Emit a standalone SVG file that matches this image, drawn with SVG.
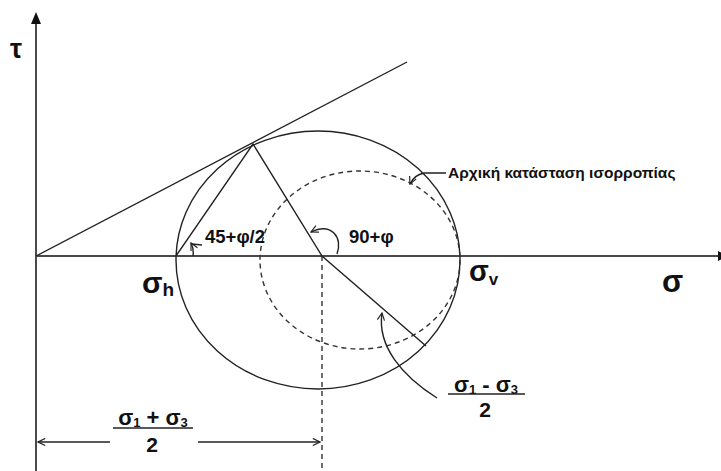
<svg xmlns="http://www.w3.org/2000/svg" width="721" height="471" viewBox="0 0 721 471">
<style>
  .ln{fill:none;stroke:#222;stroke-width:1.4}
  .ax{fill:none;stroke:#4a4a4a;stroke-width:2}
  .dash{fill:none;stroke:#333;stroke-width:1.4;stroke-dasharray:5,4}
  .t{font-family:"Liberation Sans",Arial,sans-serif;font-weight:bold;fill:#111}
</style>
<defs>
  <marker id="open" viewBox="0 0 10 10" refX="9" refY="5" markerWidth="9" markerHeight="9" markerUnits="userSpaceOnUse" orient="auto">
    <path d="M1,1 L9,5 L1,9" fill="none" stroke="#222" stroke-width="1.3"/>
  </marker>
</defs>
<rect width="721" height="471" fill="#fff"/>
<g id="axes">
  <line class="ax" x1="36" y1="22" x2="36" y2="471"/>
  <polygon points="36,12 31,24 41,24" fill="#111"/>
  <line class="ax" x1="36" y1="256" x2="718" y2="256"/>
  <polygon points="718,251 718,261 728,256" fill="#111"/>
  <text class="t" x="10" y="58" font-size="27">τ</text>
  <text class="t" x="662" y="292" font-size="31">σ</text>
</g>
<g id="circles">
  <ellipse class="ln" cx="318" cy="260" rx="142" ry="129"/>
  <ellipse class="dash" cx="360" cy="260" rx="100" ry="89"/>
  <line class="dash" x1="322" y1="256" x2="322" y2="471"/>
</g>
<g id="lines">
  <line class="ln" x1="36" y1="256" x2="407" y2="62"/>
  <polyline class="ln" points="176,256 253,144 322,256 426,346"/>
</g>
<g id="angles">
  <path class="ln" d="M193,256 Q194,249 191,243" marker-end="url(#open)"/>
  <line class="ln" x1="192" y1="244" x2="202" y2="245"/>
  <text class="t" x="205" y="243" font-size="18.5">45+φ/2</text>
  <path class="ln" d="M337,254 C343,238 332,222 311,232" marker-end="url(#open)"/>
  <text class="t" x="349" y="243" font-size="18.5">90+φ</text>
</g>
<g id="labels">
  <text class="t" x="142" y="293" font-size="30">σ<tspan font-size="19" dy="3">h</tspan></text>
  <text class="t" x="469" y="281" font-size="29">σ<tspan font-size="17" dy="4">v</tspan></text>
  <path class="ln" d="M446,173 L424,173 Q414,175 410,184" marker-end="url(#open)"/>
  <text class="t" x="448" y="178" font-size="15.5">Αρχική κατάσταση ισορροπίας</text>
</g>
<g id="frac-sum">
  <text class="t" x="153" y="425" font-size="22" text-anchor="middle">σ<tspan font-size="13" dy="2">1</tspan><tspan dy="-2"> + σ</tspan><tspan font-size="13" dy="2">3</tspan></text>
  <line x1="113" y1="428" x2="193" y2="428" stroke="#222" stroke-width="1.6"/>
  <text class="t" x="152" y="452" font-size="21" text-anchor="middle">2</text>
  <line class="ln" x1="110" y1="442" x2="38" y2="442" marker-end="url(#open)"/>
  <line class="ln" x1="198" y1="442" x2="320" y2="442" marker-end="url(#open)"/>
</g>
<g id="frac-diff">
  <text class="t" x="486" y="392" font-size="22" text-anchor="middle">σ<tspan font-size="13" dy="2">1</tspan><tspan dy="-2"> - σ</tspan><tspan font-size="13" dy="2">3</tspan></text>
  <line x1="448" y1="394" x2="525" y2="394" stroke="#222" stroke-width="1.6"/>
  <text class="t" x="485" y="417" font-size="21" text-anchor="middle">2</text>
  <path class="ln" d="M437,398 C402,376 377,346 382,313" marker-end="url(#open)"/>
</g>
</svg>
